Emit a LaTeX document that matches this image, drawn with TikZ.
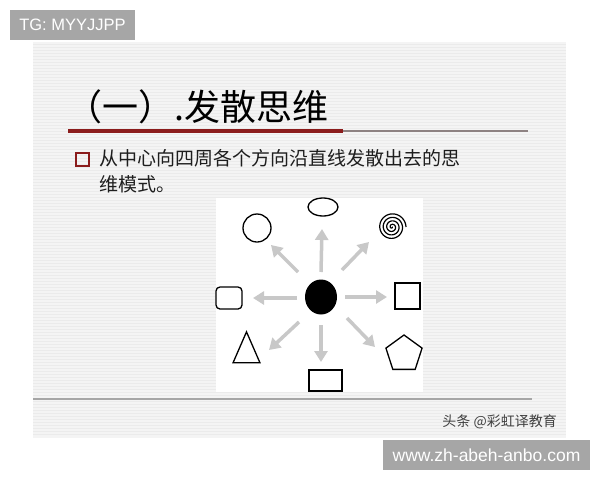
\documentclass[tikz,border=0pt]{standalone}
\usepackage{fontspec}
\setmainfont{Liberation Sans}
\newfontfamily\cjk{Noto Sans CJK SC}
\usetikzlibrary{arrows.meta,shapes.geometric}
\definecolor{slidebg}{HTML}{F4F4F4}
\definecolor{stripec}{HTML}{EBEBEB}
\definecolor{darkred}{HTML}{8B1C1C}
\definecolor{rulegrey}{HTML}{8E8282}
\definecolor{arrowgrey}{HTML}{C8C8C8}
\definecolor{tagbg}{HTML}{A6A6A6}
\definecolor{bodytext}{HTML}{1E1E1E}
\tikzset{
  tagbox/.style={fill=tagbg, text=white, inner sep=0pt, font=\fontsize{16.5}{16.5}\selectfont},
  shapeline/.style={draw=black, line width=1.3pt},
  spoke/.style={draw=arrowgrey, line width=3.5pt, -{Triangle[length=11pt,width=13pt]}},
}
\begin{document}
\begin{tikzpicture}[x=1pt,y=-1pt]
\useasboundingbox (0,0) rectangle (600,480);
\fill[white] (0,0) rectangle (600,480);
% slide
\fill[slidebg] (33,42) rectangle (566,438);
\foreach \yy in {44,47,...,436} \draw[stripec, line width=0.6pt] (33,\yy) -- (566,\yy);
% tags
\node[tagbox, minimum width=125pt, minimum height=30pt] (tg) at (72.5,25) {TG: MYYJJPP};
% title
\node[anchor=west, inner sep=0pt, font=\cjk\fontsize{36}{36}\selectfont] (title) at (66,107) {（一）.发散思维};
\draw[darkred, line width=4pt] (68,131) -- (343,131);
\draw[rulegrey, line width=1.5pt] (343,131) -- (528,131);
% bullet
\node[draw=darkred, line width=1.8pt, minimum size=12.5pt, inner sep=0pt] (bullet) at (82.5,159.5) {};
\node[anchor=north west, inner sep=0pt, align=left, text=bodytext, font=\cjk\fontsize{19}{26}\selectfont] (body) at (99,149) {从中心向四周各个方向沿直线发散出去的思\\维模式。};
% diagram panel
\fill[white] (216,198) rectangle (423,392);
\node[ellipse, fill=black, minimum width=32pt, minimum height=35pt, inner sep=0pt] (c) at (321,297) {};
\node[circle, shapeline, minimum size=28pt, inner sep=0pt] (circ) at (257,228) {};
\node[ellipse, shapeline, minimum width=30pt, minimum height=18pt, inner sep=0pt] (ell) at (323,207) {};
\node[minimum size=28pt, inner sep=0pt] (spiral) at (392,227) {};
\draw[line width=1.2pt, shift={(spiral.center)}] plot[domain=0:1440, samples=400, smooth] ({0.0097*\x*cos(\x)}, {0.0097*\x*sin(\x)});
\node[shapeline, rounded corners=4pt, minimum width=26pt, minimum height=22pt, inner sep=0pt] (rsq) at (229,298) {};
\node[shapeline, minimum width=25pt, minimum height=26pt, inner sep=0pt] (sq) at (407.5,296) {};
\node[isosceles triangle, isosceles triangle apex angle=47, shape border rotate=90, shapeline, minimum height=31pt, inner sep=0pt] (tri) at (246.5,354) {};
\node[shapeline, minimum width=33pt, minimum height=21pt, inner sep=0pt] (rect) at (325.5,380.5) {};
\node[regular polygon, regular polygon sides=5, shapeline, minimum size=38pt, inner sep=0pt] (pent) at (404,354) {};
% arrow tips
\coordinate (tU) at (322,229);
\coordinate (tD) at (321,362);
\coordinate (tL) at (253,298);
\coordinate (tR) at (387,297);
\coordinate (tUL) at (271,245);
\coordinate (tUR) at (369,242);
\coordinate (tDL) at (269,350);
\coordinate (tDR) at (375,347);
\coordinate (sU) at (321,272);
\coordinate (sD) at (321,325);
\coordinate (sL) at (297,298);
\coordinate (sR) at (345,297);
\coordinate (sUL) at (298,272);
\coordinate (sUR) at (342,270);
\coordinate (sDL) at (299,322);
\coordinate (sDR) at (347,318);
\foreach \d in {U,D,L,R,UL,UR,DL,DR} \draw[spoke] (s\d) -- (t\d);
% footer
\draw[gray!70, line width=1.2pt] (33,399) -- (532,399);
\node[anchor=east, inner sep=0pt, text=black!75, font=\cjk\fontsize{14}{14}\selectfont] (src) at (557,422) {头条 @彩虹译教育};
\node[tagbox, minimum width=207pt, minimum height=30pt, font=\fontsize{17.5}{17.5}\selectfont] (url) at (486.5,455) {www.zh-abeh-anbo.com};
\end{tikzpicture}
\end{document}
